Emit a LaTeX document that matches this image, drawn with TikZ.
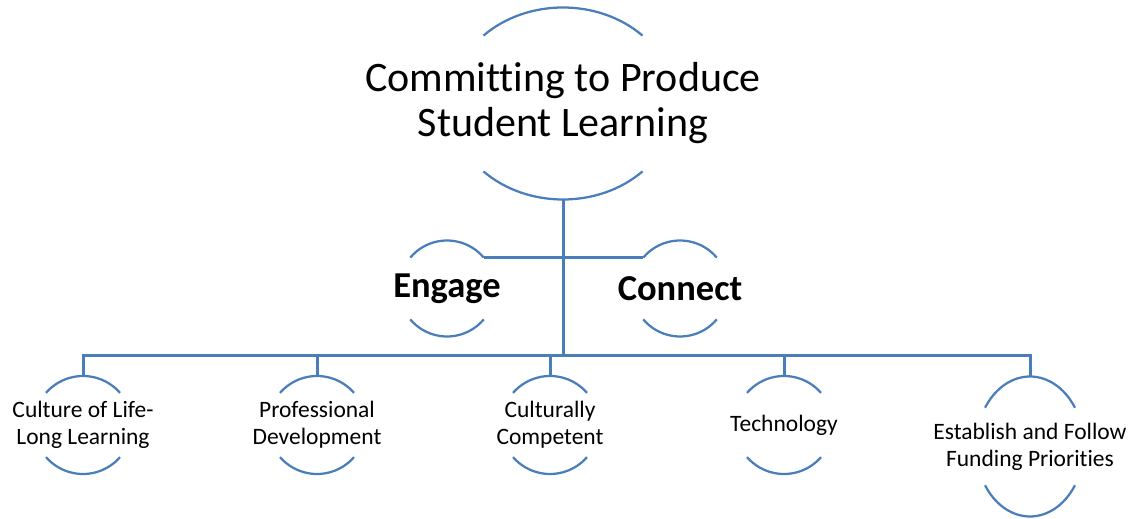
\documentclass[tikz,border=0pt]{standalone}
\usepackage{fontspec}
\setmainfont{Carlito}[Ligatures=CommonOff]
\usetikzlibrary{shapes.geometric}
\definecolor{linkblue}{RGB}{74,126,187}

% two caps of an ellipse round a node: name, x radius, y radius, angle
\newcommand{\caparcs}[4]{%
  \draw[arcline] ([shift={(#4:#2pt and #3pt)}]#1.center)
    arc[start angle=#4, end angle=180-#4, x radius=#2pt, y radius=#3pt];
  \draw[arcline] ([shift={(-#4:#2pt and #3pt)}]#1.center)
    arc[start angle=-#4, end angle=-180+#4, x radius=#2pt, y radius=#3pt];
}

\begin{document}
\begin{tikzpicture}[x=1pt, y=1pt,
    arcline/.style={draw=linkblue, line width=2.25pt},
    link/.style={draw=linkblue, line width=3pt},
    bubble/.style 2 args={ellipse, inner sep=0pt,
      minimum width=2*#1, minimum height=2*#2},
    bigtext/.style={align=center, font=\fontsize{42}{45}\selectfont},
    midtext/.style={align=center, font=\fontsize{36.5}{40}\selectfont\bfseries},
    smalltext/.style={align=center, font=\fontsize{23.5}{27}\selectfont}]
    \useasboundingbox (0,0) rectangle (1132,519);

    % Top
    \node[bubble={112.5pt}{96pt}, label={[bigtext]center:{Committing to Produce\\Student Learning}}] (goal) at (563,415.5) {};
    \caparcs{goal}{112.5}{96}{45}

    % Engage and Connect
    \node[bubble={48pt}{48pt}, label={[midtext]center:Engage}] (engage) at (447,230.5) {};
    \node[bubble={48pt}{48pt}, label={[midtext]center:Connect}] (connect) at (680,230.5) {};
    \caparcs{engage}{48}{48}{40}
    \caparcs{connect}{48}{48}{40}

    % Bottom row
    \node[bubble={49pt}{49pt}, label={[smalltext]center:{Culture of Life-\\Long Learning}}] (culture) at (83,94) {};
    \node[bubble={49pt}{49pt}, label={[smalltext]center:{Professional\\Development}}] (profdev) at (317,94) {};
    \node[bubble={49pt}{49pt}, label={[smalltext]center:{Culturally\\Competent}}] (competent) at (550,94) {};
    \node[bubble={49pt}{49pt}, label={[smalltext]center:Technology}] (tech) at (784,94) {};
    \node[bubble={54pt}{70pt}, label={[smalltext]center:{Establish and Follow\\Funding Priorities}}] (funding) at (1030,72.5) {};
    \foreach \n in {culture,profdev,competent,tech}{
        \caparcs{\n}{49}{49}{41}
    }
    \caparcs{funding}{54}{70}{33.6}

    % Connectors
    \coordinate (hub) at (563,163.5);
    \draw[link] (goal.south) -- (hub);
    \draw[link] (engage.40) -- (connect.140);
    \draw[link] (culture.north) -- (culture.north |- hub) -- (funding.north |- hub) -- (funding.north);
    \foreach \n in {profdev,competent,tech}
        \draw[link] (\n.north) -- (\n.north |- hub);
\end{tikzpicture}
\end{document}
